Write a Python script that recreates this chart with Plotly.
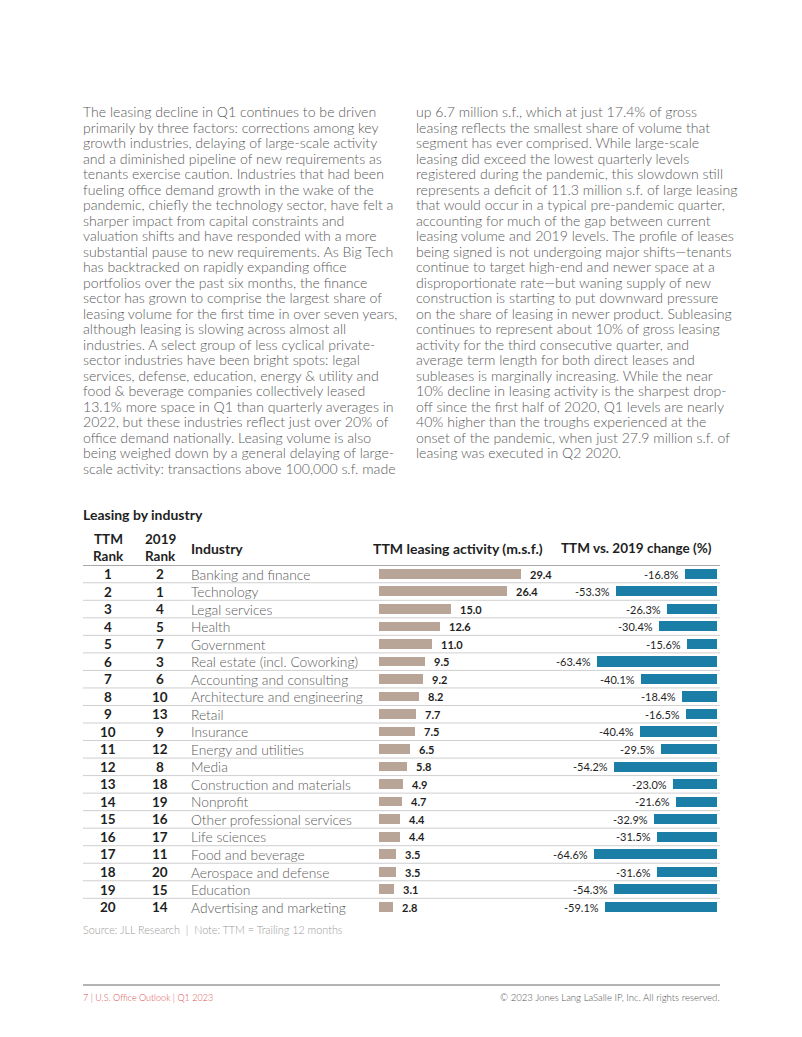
import plotly.graph_objects as go

W, H = 802, 1037
FONT = "Lato"

left_lines = [
    "The leasing decline in Q1 continues to be driven",
    "primarily by three factors: corrections among key",
    "growth industries, delaying of large-scale activity",
    "and a diminished pipeline of new requirements as",
    "tenants exercise caution. Industries that had been",
    "fueling office demand growth in the wake of the",
    "pandemic, chiefly the technology sector, have felt a",
    "sharper impact from capital constraints and",
    "valuation shifts and have responded with a more",
    "substantial pause to new requirements. As Big Tech",
    "has backtracked on rapidly expanding office",
    "portfolios over the past six months, the finance",
    "sector has grown to comprise the largest share of",
    "leasing volume for the first time in over seven years,",
    "although leasing is slowing across almost all",
    "industries. A select group of less cyclical private-",
    "sector industries have been bright spots: legal",
    "services, defense, education, energy & utility and",
    "food & beverage companies collectively leased",
    "13.1% more space in Q1 than quarterly averages in",
    "2022, but these industries reflect just over 20% of",
    "office demand nationally. Leasing volume is also",
    "being weighed down by a general delaying of large-",
    "scale activity: transactions above 100,000 s.f. made",
]
right_lines = [
    "up 6.7 million s.f., which at just 17.4% of gross",
    "leasing reflects the smallest share of volume that",
    "segment has ever comprised. While large-scale",
    "leasing did exceed the lowest quarterly levels",
    "registered during the pandemic, this slowdown still",
    "represents a deficit of 11.3 million s.f. of large leasing",
    "that would occur in a typical pre-pandemic quarter,",
    "accounting for much of the gap between current",
    "leasing volume and 2019 levels. The profile of leases",
    "being signed is not undergoing major shifts\u2014tenants",
    "continue to target high-end and newer space at a",
    "disproportionate rate\u2014but waning supply of new",
    "construction is starting to put downward pressure",
    "on the share of leasing in newer product. Subleasing",
    "continues to represent about 10% of gross leasing",
    "activity for the third consecutive quarter, and",
    "average term length for both direct leases and",
    "subleases is marginally increasing. While the near",
    "10% decline in leasing activity is the sharpest drop-",
    "off since the first half of 2020, Q1 levels are nearly",
    "40% higher than the troughs experienced at the",
    "onset of the pandemic, when just 27.9 million s.f. of",
    "leasing was executed in Q2 2020.",
]

ttm_rank = list(range(1, 21))
rank_2019 = [2, 1, 4, 5, 7, 3, 6, 10, 13, 9, 12, 8, 18, 19, 16, 17, 11, 20, 15, 14]
industries = [
    "Banking and finance", "Technology", "Legal services", "Health", "Government",
    "Real estate (incl. Coworking)", "Accounting and consulting",
    "Architecture and engineering", "Retail", "Insurance", "Energy and utilities",
    "Media", "Construction and materials", "Nonprofit", "Other professional services",
    "Life sciences", "Food and beverage", "Aerospace and defense", "Education",
    "Advertising and marketing",
]
activity = [29.4, 26.4, 15.0, 12.6, 11.0, 9.5, 9.2, 8.2, 7.7, 7.5, 6.5, 5.8, 4.9, 4.7,
            4.4, 4.4, 3.5, 3.5, 3.1, 2.8]
change = [-16.8, -53.3, -26.3, -30.4, -15.6, -63.4, -40.1, -18.4, -16.5, -40.4, -29.5,
          -54.2, -23.0, -21.6, -32.9, -31.5, -64.6, -31.6, -54.3, -59.1]


def px(x):
    return x / W


def py(y):
    return 1 - y / H


BROWN = "#b8a597"
BLUE = "#1b7ea6"
DARK = "#1f1f1f"
BODY = "#5a5a5a"

rows = list(range(len(industries)))
row0, row_step = 574.0, 17.53
y_top = row0 - row_step / 2
y_bot = row0 + row_step * (len(rows) - 0.5)

fig = go.Figure()
fig.add_trace(go.Bar(
    x=activity, y=rows, orientation="h", marker=dict(color=BROWN, line=dict(width=0)),
    width=0.55, xaxis="x", yaxis="y", hoverinfo="skip", showlegend=False,
))
fig.add_trace(go.Bar(
    x=change, y=rows, orientation="h", marker=dict(color=BLUE, line=dict(width=0)),
    width=0.58, xaxis="x2", yaxis="y", hoverinfo="skip", showlegend=False,
))

# axis geometry: brown 4.83 px/unit starting at x=379; blue 1.9 px/unit ending at 717
a_l, a_r = 379, 579
b_l, b_r = 517, 717
layout_axes = dict(
    xaxis=dict(domain=[px(a_l), px(a_r)], range=[0, (a_r - a_l) / 4.83], visible=False,
               anchor="y", fixedrange=True),
    xaxis2=dict(domain=[px(b_l), px(b_r)], range=[-(b_r - b_l) / 1.9, 0], visible=False,
                anchor="y", fixedrange=True),
    yaxis=dict(domain=[py(y_bot), py(y_top)], range=[len(rows) - 0.5, -0.5], visible=False,
               fixedrange=True),
)

ann = []
line_h = 15.48
for i, t in enumerate(left_lines):
    ann.append(dict(text=t, x=px(81), y=py(112 + i * line_h), xanchor="left", yanchor="middle"))
for i, t in enumerate(right_lines):
    ann.append(dict(text=t, x=px(414), y=py(112 + i * line_h), xanchor="left", yanchor="middle"))
for a in ann:
    a.update(xref="paper", yref="paper", showarrow=False,
             font=dict(family=FONT, size=14.1, color=BODY, weight=300))

def add(text, x, y, size=13, color=DARK, bold=False, xanchor="left", yref="paper", xref="paper", xshift=0, weight=None):
    w = weight if weight is not None else (700 if bold else 400)
    ann.append(dict(text=text, x=x, y=y, xref=xref, yref=yref, showarrow=False,
                    xanchor=xanchor, yanchor="middle", xshift=xshift,
                    font=dict(family=FONT, size=size, color=color, weight=w)))

add("Leasing by industry", px(81), py(514), size=14, bold=True)
add("TTM", px(108), py(539), size=13.5, bold=True, xanchor="center")
add("Rank", px(108), py(556), size=13.5, bold=True, xanchor="center")
add("2019", px(160), py(539), size=13.5, bold=True, xanchor="center")
add("Rank", px(160), py(556), size=13.5, bold=True, xanchor="center")
add("Industry", px(189), py(548), size=14, bold=True)
add("TTM leasing activity (m.s.f.)", px(458), py(548), size=14.0, bold=True, xanchor="center")
add("TTM vs. 2019 change (%)", px(636), py(548), size=13.5, bold=True, xanchor="center")

for i in rows:
    add(str(ttm_rank[i]), px(108), i, size=13.5, bold=True, xanchor="center", yref="y")
    add(str(rank_2019[i]), px(160), i, size=13.5, bold=True, xanchor="center", yref="y")
    add(industries[i], px(189), i, size=13.8, color=BODY, yref="y", weight=300)
    add(f"{activity[i]:.1f}", activity[i], i, size=11, bold=True, xref="x", yref="y", xshift=7)
    add(f"{change[i]:.1f}%", change[i], i, size=11, color=DARK, xref="x2", yref="y",
        xanchor="right", xshift=-4)

add("Source: JLL Research  |  Note: TTM = Trailing 12 months", px(81), py(929), size=10.8,
    color="#9a9a9a", weight=300)
add("7 | U.S. Office Outlook | Q1 2023", px(81), py(997), size=9, color="#d9534f", weight=300)
add("\u00a9 2023 Jones Lang LaSalle IP, Inc. All rights reserved.", px(722), py(997), size=9.6,
    color="#555555", xanchor="right", weight=300)

shapes = [dict(type="line", xref="paper", yref="y", x0=px(83), x1=px(720), y0=-0.5, y1=-0.5,
               line=dict(color="#8c8c8c", width=1.5))]
for i in rows[:-1]:
    shapes.append(dict(type="line", xref="paper", yref="y", x0=px(83), x1=px(720),
                       y0=i + 0.5, y1=i + 0.5, line=dict(color="#cfcfcf", width=1)))
shapes.append(dict(type="line", xref="paper", yref="paper", x0=px(83), x1=px(720),
                   y0=py(985), y1=py(985), line=dict(color="#9a9a9a", width=1.5)))

fig.update_layout(
    width=W, height=H, margin=dict(l=0, r=0, t=0, b=0),
    paper_bgcolor="white", plot_bgcolor="rgba(0,0,0,0)",
    annotations=ann, shapes=shapes, bargap=0, showlegend=False,
    font=dict(family=FONT), **layout_axes,
)
fig.write_html("out.html", config={"displayModeBar": False},
               post_script="document.body.style.margin='0';document.body.style.overflow='hidden';")
